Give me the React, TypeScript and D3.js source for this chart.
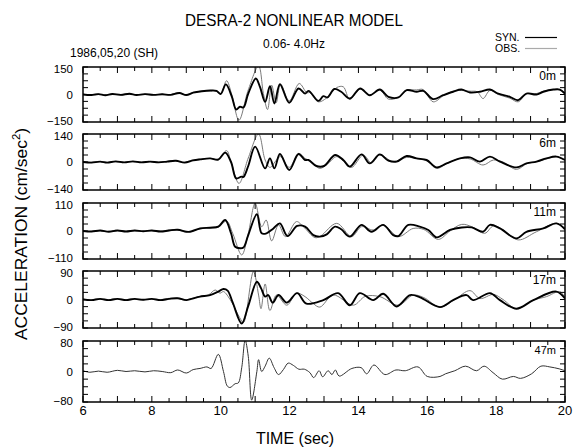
import React from "react"
import * as d3 from "d3"

// waveform knots: [time (s), acceleration (cm/s^2)]
const syn0m: [number, number][] = [[6.0,0],[6.25,-3],[6.45,2],[6.65,-4],[6.85,3],[7.1,-2],[7.35,4],[7.55,-3],[7.8,2],[8.05,-2],[8.3,1],[8.55,-2],[8.8,8],[9.0,-3],[9.2,10],[9.45,18],[9.7,22],[9.88,20],[10.0,3],[10.15,55],[10.32,-10],[10.45,-82],[10.56,-67],[10.66,-71],[10.8,5],[11.02,87],[11.14,42],[11.29,-40],[11.43,45],[11.56,-49],[11.72,56],[11.99,-45],[12.26,33],[12.45,5],[12.55,20],[12.84,-35],[12.98,-9],[13.1,-16],[13.3,30],[13.5,15],[13.75,-22],[14.05,33],[14.33,-4],[14.62,27],[14.87,-13],[15.16,-16],[15.4,24],[15.69,15],[15.88,20],[16.17,-25],[16.46,-4],[16.75,15],[16.99,27],[17.24,11],[17.53,15],[17.82,27],[18.06,5],[18.4,-13],[18.64,-31],[18.88,5],[19.17,0],[19.37,15],[19.66,27],[19.85,27],[20.0,5]]
const obs0m: [number, number][] = [[6.0,2],[6.2,-2],[6.4,4],[6.6,-3],[6.85,2],[7.1,-4],[7.3,3],[7.55,-2],[7.8,3],[8.0,-3],[8.3,2],[8.5,-3],[8.75,10],[9.0,-2],[9.2,12],[9.45,18],[9.7,20],[9.9,16],[10.0,3],[10.17,75],[10.32,0],[10.53,-140],[10.8,25],[11.1,155],[11.24,5],[11.36,-82],[11.48,51],[11.61,-45],[11.74,56],[11.99,-35],[12.28,60],[12.5,10],[12.6,10],[12.83,-40],[13.07,-20],[13.37,38],[13.56,42],[13.75,-27],[14.05,30],[14.33,-4],[14.62,25],[14.87,-25],[15.16,-16],[15.4,22],[15.69,25],[15.88,27],[16.17,-40],[16.46,-8],[16.75,18],[16.99,22],[17.24,18],[17.45,15],[17.62,-22],[17.82,22],[18.06,0],[18.4,-20],[18.64,-40],[18.88,5],[19.17,5],[19.37,18],[19.66,27],[19.85,25],[20.0,0]]

const syn6m: [number, number][] = [[6.0,0],[6.25,-3],[6.5,2],[6.7,-3],[6.95,3],[7.2,-2],[7.45,3],[7.7,-2],[7.95,2],[8.2,-2],[8.45,2],[8.7,6],[8.95,-3],[9.2,8],[9.4,13],[9.69,18],[9.93,12],[10.13,47],[10.3,0],[10.45,-82],[10.6,-73],[10.66,-75],[10.8,-20],[11.0,77],[11.29,-32],[11.43,18],[11.56,-32],[11.72,40],[11.99,-40],[12.26,40],[12.45,10],[12.55,10],[12.78,-20],[13.0,-20],[13.32,35],[13.56,10],[13.75,-23],[14.09,38],[14.33,-7],[14.62,38],[14.87,7],[15.11,2],[15.4,30],[15.69,18],[15.98,10],[16.27,-27],[16.56,-7],[16.95,18],[17.24,23],[17.53,2],[17.82,27],[18.11,2],[18.59,-27],[18.88,-7],[19.17,2],[19.46,18],[19.75,27],[20.0,10]]
const obs6m: [number, number][] = [[6.0,2],[6.2,-2],[6.45,3],[6.7,-2],[6.9,2],[7.15,-3],[7.4,2],[7.65,-2],[7.9,3],[8.15,-2],[8.4,3],[8.65,8],[8.9,-2],[9.2,10],[9.45,15],[9.7,18],[9.93,14],[10.17,57],[10.3,0],[10.53,-107],[10.8,20],[11.1,140],[11.29,10],[11.43,-27],[11.62,10],[11.74,27],[11.99,-27],[12.26,43],[12.45,18],[12.6,5],[12.88,-32],[13.1,-10],[13.37,27],[13.56,5],[13.8,-27],[14.14,35],[14.38,-5],[14.62,35],[15.01,2],[15.4,23],[15.75,15],[16.0,5],[16.27,-32],[16.6,-5],[16.95,18],[17.25,15],[17.62,-15],[17.92,10],[18.2,0],[18.59,-37],[18.9,-8],[19.2,2],[19.46,15],[19.75,27],[20.0,8]]

const syn11m: [number, number][] = [[6.0,0],[6.25,-2],[6.5,2],[6.75,-3],[7.0,2],[7.25,-2],[7.5,2],[7.75,-1],[8.0,2],[8.25,-2],[8.5,2],[8.75,5],[9.0,-3],[9.11,-3],[9.4,10],[9.69,13],[9.93,17],[10.13,43],[10.3,-9],[10.42,-62],[10.56,-68],[10.66,-65],[10.8,-16],[11.05,66],[11.19,-9],[11.33,-9],[11.53,10],[11.72,30],[11.94,-20],[12.22,20],[12.45,17],[12.69,-16],[12.88,-22],[13.08,-13],[13.32,17],[13.5,7],[13.75,-22],[14.09,24],[14.38,-3],[14.72,24],[15.01,-16],[15.16,-20],[15.45,24],[15.78,17],[16.03,4],[16.27,-25],[16.66,4],[17.0,14],[17.29,14],[17.62,-3],[17.82,24],[18.11,10],[18.59,-29],[18.88,-3],[19.37,10],[19.75,30],[20.0,7]]
const obs11m: [number, number][] = [[6.0,2],[6.2,-2],[6.45,2],[6.7,-2],[6.95,3],[7.2,-2],[7.45,2],[7.7,-2],[7.95,2],[8.2,-1],[8.45,3],[8.7,6],[8.95,-2],[9.15,-2],[9.4,10],[9.69,12],[9.93,15],[10.17,39],[10.35,-10],[10.61,-94],[10.8,-10],[11.0,109],[11.19,17],[11.32,43],[11.48,-39],[11.68,24],[11.88,-22],[12.2,37],[12.4,17],[12.74,-26],[12.9,-20],[13.37,30],[13.8,-22],[14.09,17],[14.43,4],[14.72,24],[15.16,-22],[15.59,10],[15.9,6],[16.32,-33],[16.66,0],[17.0,26],[17.29,17],[17.67,-9],[17.92,20],[18.2,5],[18.64,-35],[19.17,-3],[19.75,30],[20.0,5]]

const syn17m: [number, number][] = [[6.0,0],[6.25,-2],[6.5,2],[6.75,-2],[7.0,2],[7.25,-2],[7.5,2],[7.75,-1],[8.0,2],[8.25,-2],[8.5,2],[8.75,4],[9.0,-2],[9.15,2],[9.4,9],[9.69,14],[9.93,25],[10.08,33],[10.2,28],[10.35,-10],[10.61,-76],[10.8,-20],[11.05,56],[11.17,36],[11.29,9],[11.38,14],[11.51,-10],[11.68,14],[11.92,-10],[12.22,20],[12.49,-13],[12.98,-2],[13.41,20],[13.75,-18],[14.04,20],[14.43,-2],[14.72,18],[15.11,-22],[15.5,14],[15.79,7],[16.37,-24],[16.75,-2],[17.14,14],[17.33,-2],[17.82,20],[18.11,-2],[18.59,-29],[19.08,-2],[19.75,25],[20.0,3]]
const obs17m: [number, number][] = [[6.0,2],[6.2,-2],[6.45,2],[6.7,-2],[6.95,3],[7.2,-1],[7.45,2],[7.7,-2],[7.95,2],[8.2,-1],[8.45,3],[8.7,5],[8.95,-2],[9.15,3],[9.4,10],[9.65,15],[9.84,30],[9.98,20],[10.08,25],[10.3,-5],[10.55,-57],[10.66,-73],[10.95,88],[11.1,14],[11.17,-29],[11.29,49],[11.43,-35],[11.62,14],[11.92,-18],[12.2,20],[12.45,9],[12.69,-13],[12.88,-24],[13.27,14],[13.85,-18],[14.2,10],[14.62,9],[15.16,-18],[15.59,14],[15.9,6],[16.37,-24],[16.8,0],[17.24,28],[17.53,3],[17.92,16],[18.2,0],[18.59,-29],[19.08,-2],[19.46,9],[19.85,25],[20.0,5]]

const rec47m: [number, number][] = [[6.0,2],[6.2,-2],[6.45,1],[6.7,-2],[7.0,3],[7.25,0],[7.5,2],[7.8,-1],[8.05,2],[8.3,0],[8.55,-3],[8.75,4],[9.0,-4],[9.2,5],[9.4,8],[9.6,12],[9.72,8],[9.93,45],[10.08,0],[10.19,-38],[10.27,-42],[10.42,-32],[10.51,-30],[10.61,10],[10.71,82],[10.8,40],[10.9,-75],[11.05,0],[11.1,31],[11.19,0],[11.29,14],[11.41,35],[11.55,10],[11.68,-8],[11.82,5],[11.96,22],[12.11,16],[12.27,6],[12.43,6],[12.59,-3],[12.7,-16],[12.86,2],[12.96,-14],[13.12,2],[13.23,-8],[13.33,4],[13.44,-12],[13.81,8],[14.08,10],[14.24,-6],[14.45,17],[14.77,-8],[15.09,4],[15.36,2],[15.73,12],[16.0,-13],[16.37,-13],[16.53,-6],[16.8,2],[17.11,14],[17.43,2],[17.65,14],[17.91,-3],[18.18,-20],[18.5,-13],[18.71,-18],[19.03,-6],[19.3,14],[19.56,12],[19.83,7],[20.0,2]]

const depths = ["0m", "6m", "11m", "17m", "47m"]
const yLimits = [150, 140, 110, 90, 80]
const xTicks = [6, 8, 10, 12, 14, 16, 18, 20]

const panels = [
  { syn: syn0m, obs: obs0m },
  { syn: syn6m, obs: obs6m },
  { syn: syn11m, obs: obs11m },
  { syn: syn17m, obs: obs17m },
  { syn: null, obs: rec47m },
]

// frame layout
const left = 83, right = 565
const tops = [67, 134, 203, 271, 341]
const bottoms = [122, 190, 259, 328, 402]
const font = "'Liberation Sans', Arial, sans-serif"

export default function App() {
  const x = d3.scaleLinear().domain([6, 20]).range([left, right])
  const minor = d3.range(6, 20.01, 0.5)

  return (
    <svg width={575} height={448} style={{ position: "absolute", left: 0, top: 0, background: "#fff" }} fontFamily={font}>
      <defs>
        {panels.map((p, i) => (
          <clipPath id={"clip" + i} key={i}>
            <rect x={left} y={tops[i]} width={right - left} height={bottoms[i] - tops[i]} />
          </clipPath>
        ))}
      </defs>

      <text x={294} y={26} fontSize={17} textAnchor="middle" textLength={218} lengthAdjust="spacingAndGlyphs">DESRA-2 NONLINEAR MODEL</text>
      <text x={263} y={48} fontSize={12}>0.06- 4.0Hz</text>
      <text x={70} y={57} fontSize={12}>1986,05,20 (SH)</text>
      <text x={495} y={41} fontSize={10.5}>SYN.</text>
      <text x={495} y={52} fontSize={10.5}>OBS.</text>
      <line x1={525} x2={557} y1={37.5} y2={37.5} stroke="#000" strokeWidth={1.2} />
      <line x1={525} x2={557} y1={48.5} y2={48.5} stroke="#aaa" strokeWidth={1.2} />

      {panels.map((p, i) => {
        const lim = yLimits[i]
        const y = d3.scaleLinear().domain([-lim, lim]).range([bottoms[i], tops[i]])
        const line = d3.line<[number, number]>()
          .x(d => x(d[0]))
          .y(d => y(d[1]))
          .curve(d3.curveCatmullRom.alpha(0.5))
        const yMinor = d3.range(-lim, lim + 0.01, lim / 4)
        return (
          <g key={i}>
            <g clipPath={`url(#clip${i})`}>
              <path d={line(p.obs) || ""} fill="none" stroke={p.syn ? "#7a7a7a" : "#333"} strokeWidth={1} />
              {p.syn && <path d={line(p.syn) || ""} fill="none" stroke="#000" strokeWidth={1.9} />}
            </g>
            <rect x={left} y={tops[i]} width={right - left} height={bottoms[i] - tops[i]} fill="none" stroke="#000" strokeWidth={1.5} />
            {minor.map(t => {
              const len = Math.abs(t - Math.round(t)) < 0.01 ? 6 : 4
              return (
                <g key={t}>
                  <line x1={x(t)} x2={x(t)} y1={tops[i]} y2={tops[i] + len} stroke="#000" />
                  <line x1={x(t)} x2={x(t)} y1={bottoms[i]} y2={bottoms[i] - len} stroke="#000" />
                </g>
              )
            })}
            {yMinor.map(v => (
              <g key={v}>
                <line x1={left} x2={left + 5} y1={y(v)} y2={y(v)} stroke="#000" />
                <line x1={right} x2={right - 5} y1={y(v)} y2={y(v)} stroke="#000" />
              </g>
            ))}
            {[lim, 0, -lim].map(v => (
              <text key={v} x={73} y={y(v) + (v > 0 ? 5.5 : v < 0 ? 3 : 4.3)} fontSize={11.5} textAnchor="end">{v < 0 ? "\u2212" + Math.abs(v) : v}</text>
            ))}
            <text x={556} y={tops[i] + 13} fontSize={i === 4 ? 11 : 12} textAnchor="end">{depths[i]}</text>
          </g>
        )
      })}

      {xTicks.map(t => (
        <text key={t} x={x(t)} y={415} fontSize={13} textAnchor="middle">{t}</text>
      ))}
      <text x={295} y={444} fontSize={16} textAnchor="middle">TIME (sec)</text>
      <text transform="translate(27,234) rotate(-90)" fontSize={17} textAnchor="middle" textLength={212} lengthAdjust="spacingAndGlyphs">
        ACCELERATION (cm/sec<tspan dy={-7} fontSize={11}>2</tspan><tspan dy={7}>)</tspan>
      </text>
    </svg>
  )
}
